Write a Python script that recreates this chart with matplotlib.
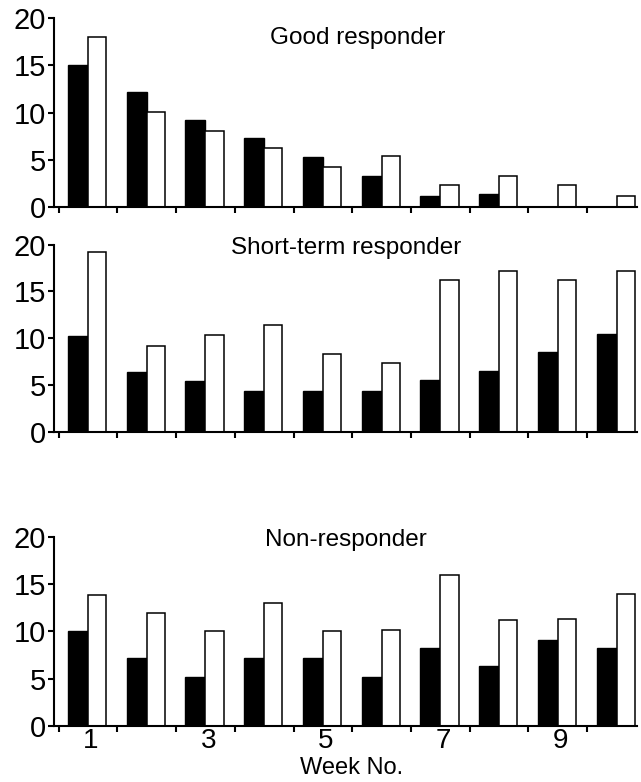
import matplotlib.pyplot as plt
import numpy as np

plt.rcParams['font.family'] = ['Liberation Sans', 'DejaVu Sans']

weeks = np.arange(1, 11)
week_labels = ["1", "3", "5", "7", "9"]
panel_titles = ["Good responder", "Short-term responder", "Non-responder"]

good_black = [15, 12.2, 9.2, 7.3, 5.3, 3.3, 1.2, 1.4, 0, 0]
good_white = [18, 10.1, 8.1, 6.3, 4.2, 5.4, 2.3, 3.3, 2.3, 1.2]

short_black = [10.2, 6.4, 5.4, 4.3, 4.3, 4.3, 5.5, 6.5, 8.5, 10.5]
short_white = [19.2, 9.2, 10.3, 11.4, 8.3, 7.3, 16.2, 17.2, 16.2, 17.2]

non_black = [10, 7.2, 5.2, 7.2, 7.2, 5.2, 8.2, 6.3, 9.1, 8.2]
non_white = [13.9, 12, 10, 13, 10, 10.2, 16, 11.2, 11.3, 14]

series = [(good_black, good_white), (short_black, short_white), (non_black, non_white)]

fig = plt.figure(figsize=(6.41, 7.82), dpi=100)

# axes boxes [left, bottom, width, height] in figure fractions
boxes = [
    [0.085, 0.735, 0.909, 0.242],
    [0.085, 0.448, 0.909, 0.239],
    [0.085, 0.072, 0.909, 0.241],
]
title_pos = [(0.52, 0.895), (0.50, 0.985), (0.50, 0.985)]

for k, (black, white) in enumerate(series):
    ax = fig.add_axes(boxes[k])
    ax.bar(weeks - 0.17, black, width=0.34, color='black', edgecolor='black', linewidth=1.0)
    ax.bar(weeks + 0.155, white, width=0.31, color='white', edgecolor='black', linewidth=1.1)

    ax.set_xlim(0.43, 10.35)
    ax.set_ylim(0, 20)
    ax.set_yticks([0, 5, 10, 15, 20])
    ax.spines['top'].set_visible(False)
    ax.spines['right'].set_visible(False)
    ax.spines['left'].set_linewidth(1.5)
    ax.spines['bottom'].set_linewidth(1.5)
    ax.tick_params(axis='y', direction='out', length=4, width=1.5, pad=2, labelsize=21)

    # tick marks at week boundaries, labels at week centres
    ax.set_xticks(np.arange(0.5, 10, 1.0), minor=True)
    ax.set_xticks([1.05, 3.05, 5.05, 7.05, 9.05])
    ax.tick_params(axis='x', which='minor', direction='out', length=4, width=1.5)
    ax.tick_params(axis='x', which='major', length=0, pad=2, labelsize=20)
    if k == 2:
        ax.set_xticklabels(week_labels)
        ax.set_xlabel("Week No.", fontsize=17, va='bottom')
        ax.xaxis.set_label_coords(0.51, -0.285)
    else:
        ax.set_xticklabels([])

    ax.text(title_pos[k][0], title_pos[k][1], panel_titles[k], transform=ax.transAxes,
            ha='center', va='center', fontsize=17.5)

fig.savefig("out.png", dpi=100)
